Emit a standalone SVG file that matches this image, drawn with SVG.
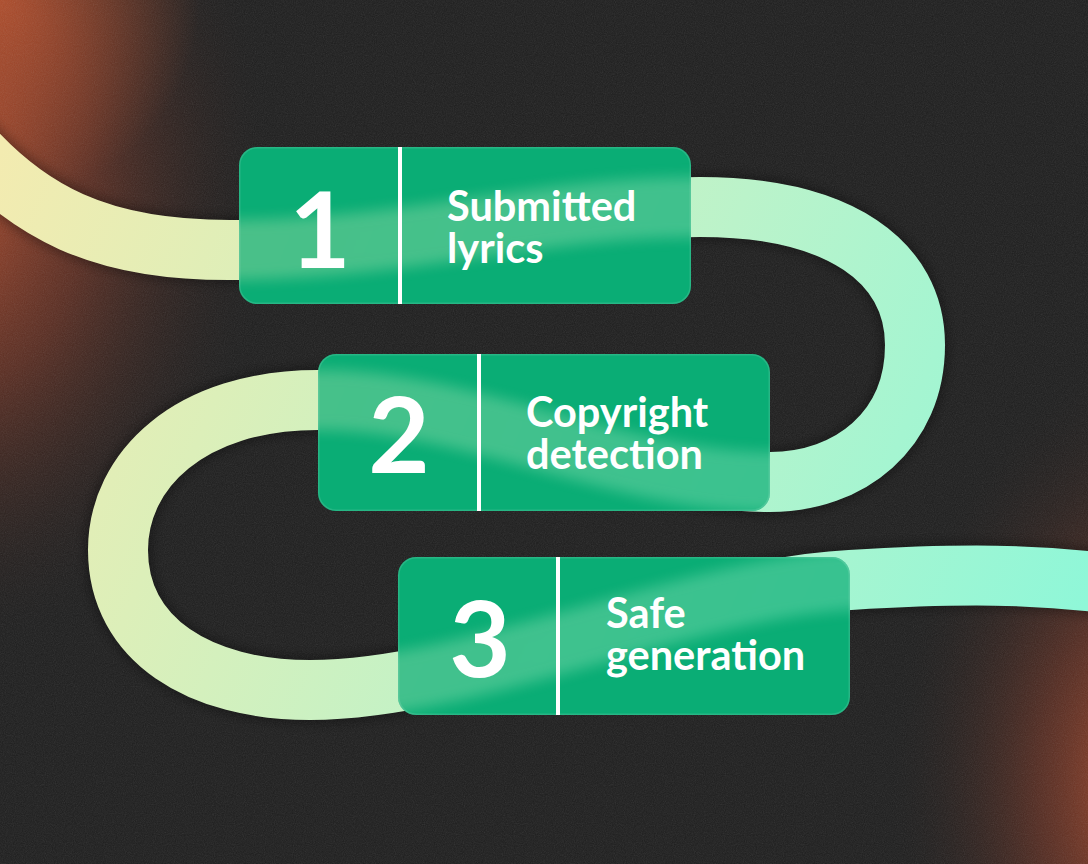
<svg xmlns="http://www.w3.org/2000/svg" xmlns:xlink="http://www.w3.org/1999/xlink" width="1088" height="864" viewBox="0 0 1088 864">
  <defs>
    <style>
      .box { fill: #0aad75; }
      .edge { fill: none; stroke: #ffffff; stroke-opacity: 0.12; stroke-width: 1.5; }
      .divider { stroke: #ffffff; stroke-width: 4; }
      .num { font-family: Lato, "Liberation Sans", sans-serif; font-weight: 700; font-size: 106px; fill: #ffffff; text-anchor: middle; }
      .label { font-family: Lato, "Liberation Sans", sans-serif; font-weight: 700; font-size: 41.5px; fill: #ffffff; }
      .ribbon { fill: none; stroke: url(#ribbonGrad); stroke-width: 60; }
    </style>
    <radialGradient id="glowTL" cx="-60" cy="180" r="480" gradientUnits="userSpaceOnUse" gradientTransform="translate(-60 180) scale(0.7 1) translate(60 -180)">
      <stop offset="0" stop-color="#c4532f" stop-opacity="0.95"/>
      <stop offset="0.45" stop-color="#8a3a26" stop-opacity="0.55"/>
      <stop offset="1" stop-color="#1e1e1e" stop-opacity="0"/>
    </radialGradient>
    <radialGradient id="glowTL2" cx="0" cy="0" r="200" gradientUnits="userSpaceOnUse">
      <stop offset="0" stop-color="#d0592f" stop-opacity="0.7"/>
      <stop offset="1" stop-color="#d0592f" stop-opacity="0"/>
    </radialGradient>
    <radialGradient id="glowBR" cx="1160" cy="790" r="440" gradientUnits="userSpaceOnUse" gradientTransform="translate(1160 790) scale(0.62 1) translate(-1160 -790)">
      <stop offset="0" stop-color="#c4532f" stop-opacity="0.95"/>
      <stop offset="0.45" stop-color="#8a3a26" stop-opacity="0.5"/>
      <stop offset="1" stop-color="#1e1e1e" stop-opacity="0"/>
    </radialGradient>
    <linearGradient id="ribbonGrad" x1="0" y1="150" x2="1088" y2="600" gradientUnits="userSpaceOnUse">
      <stop offset="0" stop-color="#f3ebb0"/>
      <stop offset="0.25" stop-color="#dcefb9"/>
      <stop offset="0.6" stop-color="#bbf3ca"/>
      <stop offset="1" stop-color="#8ff7d8"/>
    </linearGradient>
    <filter id="noise" x="0" y="0" width="100%" height="100%">
      <feTurbulence type="fractalNoise" baseFrequency="0.9" numOctaves="2" seed="4"/>
      <feColorMatrix type="saturate" values="0"/>
    </filter>
    <filter id="soft" x="-10%" y="-10%" width="120%" height="120%">
      <feGaussianBlur stdDeviation="7"/>
    </filter>
    <filter id="shadow" x="-20%" y="-20%" width="140%" height="140%">
      <feGaussianBlur stdDeviation="6"/>
    </filter>
    <path id="ribbonPath" d="M -60 108 C 20 220, 110 252, 240 250 C 420 247, 540 207, 700 207 C 840 207, 915 262, 915 345 C 915 430, 850 482, 770 482 C 620 482, 470 400, 318 400 C 190 400, 118 470, 118 550 C 118 640, 200 690, 310 690 C 470 690, 690 588, 850 580 C 950 574, 1040 572, 1140 588"/>
    <clipPath id="clip1"><rect x="239" y="147" width="452" height="157" rx="18"/></clipPath>
    <clipPath id="clip2"><rect x="318" y="354" width="452" height="157" rx="18"/></clipPath>
    <clipPath id="clip3"><rect x="398" y="557" width="452" height="158" rx="18"/></clipPath>
  </defs>

  <!-- background -->
  <rect width="1088" height="864" fill="#1e1e1e"/>
  <rect width="1088" height="864" fill="url(#glowTL)"/>
  <rect width="1088" height="864" fill="url(#glowTL2)"/>
  <rect width="1088" height="864" fill="url(#glowBR)"/>
  <rect width="1088" height="864" filter="url(#noise)" opacity="0.13"/>

  <!-- connectors -->
  <g id="connectors">
    <use xlink:href="#ribbonPath" fill="none" stroke="#000000" stroke-opacity="0.35" stroke-width="66" filter="url(#shadow)"/>
    <use xlink:href="#ribbonPath" class="ribbon"/>
  </g>

  <!-- step 1 -->
  <g id="step-1">
    <rect class="box" x="239" y="147" width="452" height="157" rx="18"/>
    <g clip-path="url(#clip1)">
      <use xlink:href="#ribbonPath" class="ribbon" filter="url(#soft)" opacity="0.3"/>
    </g>
    <rect class="edge" x="239.75" y="147.75" width="450.5" height="155.5" rx="17.5"/>
    <line class="divider" x1="400" y1="147" x2="400" y2="304"/>
    <text class="num" x="320" y="268">1</text>
    <text class="label"><tspan x="447" y="221">Submitted</tspan><tspan x="447" y="263">lyrics</tspan></text>
  </g>

  <!-- step 2 -->
  <g id="step-2">
    <rect class="box" x="318" y="354" width="452" height="157" rx="18"/>
    <g clip-path="url(#clip2)">
      <use xlink:href="#ribbonPath" class="ribbon" filter="url(#soft)" opacity="0.3"/>
    </g>
    <rect class="edge" x="318.75" y="354.75" width="450.5" height="155.5" rx="17.5"/>
    <line class="divider" x1="479" y1="354" x2="479" y2="511"/>
    <text class="num" x="399" y="473">2</text>
    <text class="label"><tspan x="526" y="427">Copyright</tspan><tspan x="526" y="469">detection</tspan></text>
  </g>

  <!-- step 3 -->
  <g id="step-3">
    <rect class="box" x="398" y="557" width="452" height="158" rx="18"/>
    <g clip-path="url(#clip3)">
      <use xlink:href="#ribbonPath" class="ribbon" filter="url(#soft)" opacity="0.3"/>
    </g>
    <rect class="edge" x="398.75" y="557.75" width="450.5" height="156.5" rx="17.5"/>
    <line class="divider" x1="558" y1="557" x2="558" y2="715"/>
    <text class="num" x="480" y="677">3</text>
    <text class="label"><tspan x="606" y="628">Safe</tspan><tspan x="606" y="670">generation</tspan></text>
  </g>
</svg>
